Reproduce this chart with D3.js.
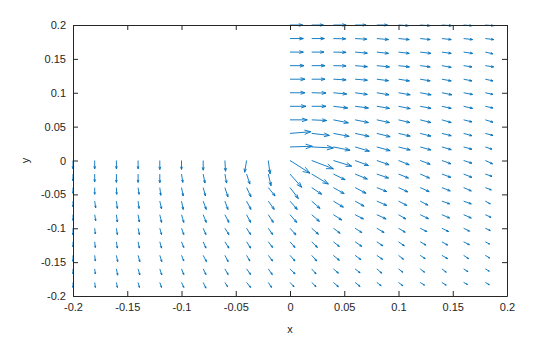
<!DOCTYPE html>
<html><head><meta charset="utf-8">
<script src="https://cdn.jsdelivr.net/npm/d3@7"></script>
<style>
html,body{margin:0;padding:0;background:#fff;}
svg{display:block;font-family:"Liberation Sans",Arial,Helvetica,sans-serif;}
</style></head>
<body>
<svg id="chart" width="560" height="337"></svg>
<script>
// ---- data ----
const xTicks = [-0.2,-0.15,-0.1,-0.05,0,0.05,0.1,0.15,0.2];
const yTicks = [-0.2,-0.15,-0.1,-0.05,0,0.05,0.1,0.15,0.2];
const xTickLabels = ["-0.2","-0.15","-0.1","-0.05","0","0.05","0.1","0.15","0.2"];
const yTickLabels = ["-0.2","-0.15","-0.1","-0.05","0","0.05","0.1","0.15","0.2"];
const xLabel = "x", yLabel = "y";

// upper-right part of the L-shaped domain: rows y, columns x
const upperY = [0.2,0.18,0.16,0.14,0.12,0.1,0.08,0.06,0.04,0.02];
const upperX = [0,0.02,0.04,0.06,0.08,0.1,0.12,0.14,0.16,0.18];
// vector components (units of 1e-3)
const upperU = [
 [11.7,10.8,11.7,10.1,9.9,9.2,9.2,9.2,7.7,7.7],
 [12.3,11.7,11.3,10.8,10.8,9.9,9.2,8.6,8.3,7.7],
 [12.3,11.3,11.7,11.3,10.8,9.9,9.9,8.6,8.3,7.1],
 [12.9,12.3,11.7,11.3,11.7,10.1,9.2,8.6,7.7,7.7],
 [13.8,12.3,11.7,11.3,10.8,10.1,9.2,8.6,7.7,7.1],
 [13.8,13.2,12.3,11.3,11.3,10.8,10.1,9.2,8.3,7.1],
 [14.7,13.2,13.2,12.3,11.7,10.8,9.9,8.6,8.3,7.1],
 [15.9,13.8,13.8,12.3,11.7,10.5,9.9,8.6,7.7,7.1],
 [19.1,16.3,14.5,12.9,12.3,10.8,9.9,8.6,7.7,7.1],
 [20.6,20.0,15.4,13.2,12.3,10.8,9.9,8.6,7.7,6.2]
];
const upperV = [
 [0,0,0,0,0,-1.0,-1.0,-1.0,-1.0,-1.0],
 [0,0,-0.4,-1.0,-1.5,-1.5,-1.5,-1.5,-1.5,-1.5],
 [0,0,-0.4,-1.5,-1.9,-1.9,-1.9,-1.9,-1.9,-2.5],
 [0,0,-0.4,-1.5,-1.9,-1.9,-1.9,-2.5,-1.9,-1.9],
 [0,0,-1.0,-1.5,-2.2,-2.5,-2.5,-2.5,-2.5,-2.5],
 [0,-0.4,-1.9,-2.5,-3.0,-3.0,-3.0,-3.0,-2.5,-2.5],
 [0,0,-2.5,-2.5,-3.0,-3.4,-3.0,-3.0,-3.0,-2.5],
 [0,-1.0,-4.4,-4.0,-4.0,-4.0,-4.0,-4.0,-3.0,-3.4],
 [2.5,-3.0,-4.4,-4.4,-4.9,-4.0,-4.0,-3.4,-3.4,-3.0],
 [1.0,-1.5,-4.9,-6.3,-5.5,-4.4,-4.4,-4.0,-3.4,-3.4]
];

// lower part of the L-shaped domain
const lowerY = [0,-0.02,-0.04,-0.06,-0.08,-0.1,-0.12,-0.14,-0.16,-0.18];
const lowerX = [-0.2,-0.18,-0.16,-0.14,-0.12,-0.1,-0.08,-0.06,-0.04,-0.02,0,0.02,0.04,0.06,0.08,0.1,0.12,0.14,0.16,0.18];
const lowerU = [
 [0,0,0,0,0,0,0,0.6,-1.8,1.6,18.4,20.0,16.9,12.3,11.3,9.9,9.2,8.3,7.7,6.7],
 [0,0,0,0,0,1.2,1.6,1.6,3.0,2.5,10.8,15.4,10.8,11.3,10.8,9.2,8.6,8.3,7.7,6.2],
 [0,0,0.3,0.9,0.9,1.6,2.1,2.8,4.0,6.2,7.7,9.2,9.9,10.1,9.2,8.6,8.3,7.7,7.1,5.5],
 [0,0.9,0.9,0.9,1.6,1.6,2.8,2.8,4.0,5.5,6.7,7.7,9.2,8.3,9.2,7.7,7.1,7.1,7.1,4.6],
 [0,0.9,0.9,1.2,1.6,2.1,2.8,3.7,3.7,4.6,6.2,7.1,7.7,7.7,8.6,6.7,7.7,7.1,7.1,5.3],
 [0,0.6,0.9,1.2,1.6,2.1,2.5,3.7,3.7,4.0,5.5,6.2,6.2,6.2,6.7,6.2,6.2,6.2,5.5,4.6],
 [0,0.6,0.9,1.2,1.6,2.1,2.5,3.7,3.7,4.0,4.6,5.3,5.5,6.2,5.5,5.3,5.3,5.3,5.3,4.0],
 [0,0.6,1.2,1.6,1.8,2.1,3.0,3.0,3.0,4.0,4.6,4.6,5.5,5.3,5.3,4.6,4.6,5.3,4.6,4.0],
 [0,0.6,1.2,1.6,1.8,2.1,2.5,3.0,3.7,3.7,4.6,4.0,4.6,4.6,4.6,4.0,4.0,4.0,4.0,3.7],
 [0,0.6,0.9,1.2,1.6,2.1,2.5,2.5,3.7,3.0,3.7,4.0,4.6,4.6,4.0,4.0,4.0,4.0,3.7,3.7]
];
const lowerV = [
 [-12.3,-12.3,-12.3,-12.3,-13.3,-13.3,-14.3,-15.8,-17.3,-19.6,-18.7,-12.3,-8.4,-7.4,-6.3,-6.3,-5.5,-4.9,-4.0,-4.9],
 [-9.9,-11.4,-12.3,-12.3,-12.8,-12.3,-13.3,-13.3,-14.8,-17.3,-19.6,-14.8,-8.4,-7.4,-5.9,-5.9,-5.9,-4.9,-4.9,-3.4],
 [-8.4,-9.9,-9.9,-9.9,-11.4,-12.3,-12.3,-13.7,-13.7,-12.3,-16.2,-9.9,-8.9,-8.4,-5.9,-6.3,-5.9,-4.9,-4.9,-3.4],
 [-8.4,-9.9,-10.8,-10.8,-11.4,-12.3,-12.3,-12.3,-12.3,-12.3,-12.3,-10.8,-8.9,-7.4,-6.3,-6.3,-5.9,-4.0,-4.0,-4.0],
 [-8.4,-8.9,-10.8,-10.8,-11.4,-11.4,-11.4,-11.4,-11.4,-11.4,-11.4,-9.9,-7.8,-6.3,-6.3,-6.3,-5.9,-4.9,-4.9,-4.0],
 [-9.9,-8.4,-9.3,-9.3,-9.3,-9.3,-9.3,-9.3,-9.3,-9.3,-9.9,-8.9,-7.4,-6.3,-6.3,-5.9,-4.9,-4.9,-4.4,-3.4],
 [-7.4,-8.4,-9.3,-9.3,-9.3,-8.4,-9.3,-9.3,-9.3,-8.4,-8.4,-8.4,-6.9,-6.9,-5.9,-5.9,-4.9,-4.9,-4.4,-3.4],
 [-8.9,-8.4,-9.3,-9.3,-9.3,-8.4,-9.3,-9.3,-8.4,-8.4,-8.4,-8.4,-7.4,-6.3,-5.9,-5.9,-4.9,-4.9,-4.9,-4.0],
 [-7.4,-7.4,-9.3,-8.9,-8.9,-8.4,-8.4,-8.4,-8.4,-8.4,-7.4,-7.4,-6.3,-5.9,-6.3,-4.9,-4.9,-4.9,-4.0,-3.4],
 [-7.4,-7.4,-7.4,-7.4,-7.4,-7.4,-8.4,-6.3,-7.4,-7.4,-6.3,-6.3,-6.3,-5.9,-4.9,-4.9,-4.0,-4.0,-3.0,-3.4]
];

// ---- build ----
const vecUnit = 0.001;
const vectors = [];
function addBlock(xs, ys, U, V){
  ys.forEach((yv,i)=>xs.forEach((xv,j)=>vectors.push({x:xv,y:yv,u:U[i][j]*vecUnit,v:V[i][j]*vecUnit})));
}
addBlock(upperX, upperY, upperU, upperV);
addBlock(lowerX, lowerY, lowerU, lowerV);

const svg = d3.select("#chart");
const L=73, R=507, T=25, B=296;
const x = d3.scaleLinear().domain([-0.2,0.2]).range([L,R]);
const y = d3.scaleLinear().domain([-0.2,0.2]).range([B,T]);
const axisColor = "#262626";
const fs = 11;

svg.append("rect").attr("x",L).attr("y",T).attr("width",R-L).attr("height",B-T).attr("fill","#fff");

// quiver
const alpha = 0.3, beta = 0.35;
svg.append("g").selectAll("path").data(vectors).join("path")
  .attr("d", d=>{
    const px=x(d.x), py=y(d.y), tx=x(d.x+d.u), ty=y(d.y+d.v);
    const du=tx-px, dv=ty-py;
    const h1x=tx-alpha*(du+beta*dv), h1y=ty-alpha*(dv-beta*du);
    const h2x=tx-alpha*(du-beta*dv), h2y=ty-alpha*(dv+beta*du);
    return `M${px},${py}L${tx},${ty}M${h1x},${h1y}L${tx},${ty}L${h2x},${h2y}`;
  })
  .attr("fill","none").attr("stroke","#0072BD").attr("stroke-width",0.9);

// axes
const tl = 5;
const gB = svg.append("g").attr("transform",`translate(0,${B})`)
  .call(d3.axisBottom(x).tickValues(xTicks).tickFormat((d,i)=>xTickLabels[i]).tickSizeInner(-tl).tickSizeOuter(0).tickPadding(7));
const gT = svg.append("g").attr("transform",`translate(0,${T})`)
  .call(d3.axisTop(x).tickValues(xTicks).tickFormat("").tickSizeInner(-tl).tickSizeOuter(0));
const gL = svg.append("g").attr("transform",`translate(${L},0)`)
  .call(d3.axisLeft(y).tickValues(yTicks).tickFormat((d,i)=>yTickLabels[i]).tickSizeInner(-tl).tickSizeOuter(0).tickPadding(7));
const gR = svg.append("g").attr("transform",`translate(${R},0)`)
  .call(d3.axisRight(y).tickValues(yTicks).tickFormat("").tickSizeInner(-tl).tickSizeOuter(0));
[gB,gT,gL,gR].forEach(g=>{
  g.select(".domain").attr("stroke",axisColor);
  g.selectAll(".tick line").attr("stroke",axisColor);
  g.selectAll("text").attr("fill",axisColor).style("font-size",fs+"px").style("font-family","'Liberation Sans',Arial,sans-serif");
});

svg.append("text").attr("x",(L+R)/2).attr("y",333).attr("text-anchor","middle")
  .attr("fill",axisColor).style("font-size",fs+"px").text(xLabel);
svg.append("text").attr("transform",`translate(29,${(T+B)/2}) rotate(-90)`).attr("text-anchor","middle")
  .attr("fill",axisColor).style("font-size",fs+"px").text(yLabel);
</script>
</body></html>
